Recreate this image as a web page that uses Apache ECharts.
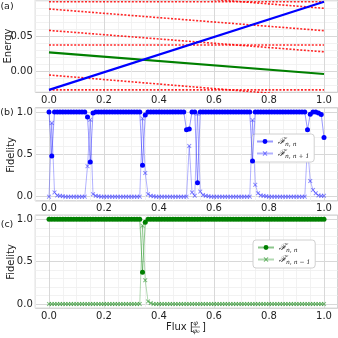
<!DOCTYPE html>
<html>
<head>
<meta charset="utf-8">
<script src="https://cdn.jsdelivr.net/npm/echarts@6.0.0/dist/echarts.min.js"></script>
<style>
  html, body { margin: 0; padding: 0; background: #fff; }
  #chart { width: 338px; height: 338px; }
</style>
</head>
<body>
<div id="chart"></div>
<script>
// panel (a): levels, given by their value at flux 0 and flux 1
var fluxEnds = [0, 1];
var energyBlue = [-0.026, 0.1];
var energyGreen = [0.0277, -0.0033];
var energyRed = [
  [0.1, 0.1],
  [0.0896, 0.0586],
  [0.059, 0.0284],
  [0.0381, 0.0381],
  [-0.0047, -0.037],
  [-0.026, -0.026],
  [0.1216, 0.0906]
];

// panels (b), (c): fidelity sampled on the flux grid
var flux = [
  0.00, 0.01, 0.02, 0.03, 0.04, 0.05, 0.06, 0.07, 0.08, 0.09,
  0.10, 0.11, 0.12, 0.13, 0.14, 0.15, 0.16, 0.17, 0.18, 0.19,
  0.20, 0.21, 0.22, 0.23, 0.24, 0.25, 0.26, 0.27, 0.28, 0.29,
  0.30, 0.31, 0.32, 0.33, 0.34, 0.35, 0.36, 0.37, 0.38, 0.39,
  0.40, 0.41, 0.42, 0.43, 0.44, 0.45, 0.46, 0.47, 0.48, 0.49,
  0.50, 0.51, 0.52, 0.53, 0.54, 0.55, 0.56, 0.57, 0.58, 0.59,
  0.60, 0.61, 0.62, 0.63, 0.64, 0.65, 0.66, 0.67, 0.68, 0.69,
  0.70, 0.71, 0.72, 0.73, 0.74, 0.75, 0.76, 0.77, 0.78, 0.79,
  0.80, 0.81, 0.82, 0.83, 0.84, 0.85, 0.86, 0.87, 0.88, 0.89,
  0.90, 0.91, 0.92, 0.93, 0.94, 0.95, 0.96, 0.97, 0.98, 0.99,
  1.00
];
var fidB_nn = [
  1, 0.48, 1, 1, 1, 1, 1, 1, 1, 1,
  1, 1, 1, 1, 0.94, 0.41, 0.99, 1, 1, 1,
  1, 1, 1, 1, 1, 1, 1, 1, 1, 1,
  1, 1, 1, 1, 0.37, 0.965, 1, 1, 1, 1,
  1, 1, 1, 1, 1, 1, 1, 1, 1, 1,
  0.79, 0.80, 1, 1, 0.165, 1, 1, 1, 1, 1,
  1, 1, 1, 1, 1, 1, 1, 1, 1, 1,
  1, 1, 1, 1, 0.42, 1, 1, 1, 1, 1,
  1, 1, 1, 1, 1, 1, 1, 1, 1, 1,
  1, 1, 1, 1, 0.79, 0.975, 1, 1, 0.99, 0.97,
  0.70
];
var fidB_n1 = [
  0, 0.87, 0.05, 0.015, 0.01, 0.005, 0, 0, 0, 0,
  0, 0, 0, 0, 0.36, 0.91, 0.03, 0.01, 0.005, 0,
  0, 0, 0, 0, 0, 0, 0, 0, 0, 0,
  0, 0, 0, 0, 0.925, 0.28, 0.03, 0.01, 0.005, 0,
  0, 0, 0, 0, 0, 0, 0, 0, 0, 0,
  0, 0.6, 0.05, 0.01, 0.98, 0.06, 0.02, 0.01, 0.005, 0,
  0, 0, 0, 0, 0, 0, 0, 0, 0, 0,
  0, 0, 0, 0, 0.905, 0.14, 0.04, 0.015, 0.01, 0.005,
  0, 0, 0, 0, 0, 0, 0, 0, 0, 0,
  0, 0, 0, 0, 0.6, 0.185, 0.08, 0.04, 0.015, 0.01,
  0.01
];
var fidC_nn = [
  1, 1, 1, 1, 1, 1, 1, 1, 1, 1,
  1, 1, 1, 1, 1, 1, 1, 1, 1, 1,
  1, 1, 1, 1, 1, 1, 1, 1, 1, 1,
  1, 1, 1, 1, 0.374, 0.965, 1, 1, 1, 1,
  1, 1, 1, 1, 1, 1, 1, 1, 1, 1,
  1, 1, 1, 1, 1, 1, 1, 1, 1, 1,
  1, 1, 1, 1, 1, 1, 1, 1, 1, 1,
  1, 1, 1, 1, 1, 1, 1, 1, 1, 1,
  1, 1, 1, 1, 1, 1, 1, 1, 1, 1,
  1, 1, 1, 1, 1, 1, 1, 1, 1, 1,
  1
];
var fidC_n1 = [
  0, 0, 0, 0, 0, 0, 0, 0, 0, 0,
  0, 0, 0, 0, 0, 0, 0, 0, 0, 0,
  0, 0, 0, 0, 0, 0, 0, 0, 0, 0,
  0, 0, 0, 0, 0.925, 0.28, 0.03, 0.01, 0, 0,
  0, 0, 0, 0, 0, 0, 0, 0, 0, 0,
  0, 0, 0, 0, 0, 0, 0, 0, 0, 0,
  0, 0, 0, 0, 0, 0, 0, 0, 0, 0,
  0, 0, 0, 0, 0, 0, 0, 0, 0, 0,
  0, 0, 0, 0, 0, 0, 0, 0, 0, 0,
  0, 0, 0, 0, 0, 0, 0, 0, 0, 0,
  0
];

// ticks
var xTicks = [0, 0.2, 0.4, 0.6, 0.8, 1.0];
var xMinor = [-0.05, 0.05, 0.1, 0.15, 0.25, 0.3, 0.35, 0.45, 0.5, 0.55, 0.65, 0.7, 0.75, 0.85, 0.9, 0.95, 1.05];
var energyTicks = [0, 0.05];
var energyMinor = [-0.02, -0.01, 0.01, 0.02, 0.03, 0.04, 0.06, 0.07, 0.08, 0.09, 0.1];
var fidTicks = [0, 0.5, 1.0];
var fidMinor = [0.1, 0.2, 0.3, 0.4, 0.6, 0.7, 0.8, 0.9];

var legendSubs = { bnn: 'n, n', bn1: 'n, n + 1', cnn: 'n, n', cn1: 'n, n \u2212 1' };

var FONT = 'DejaVu Sans';
var XMARK = 'path://M0,1.5L1.5,0L5,3.5L8.5,0L10,1.5L6.5,5L10,8.5L8.5,10L5,6.5L1.5,10L0,8.5L3.5,5Z';

function pairs(xs, ys) {
  return xs.map(function (x, i) { return [x, ys[i]]; });
}

var gridDefs = [
  { top: 0, height: 92.3, ymin: -0.0294, ymax: 0.1024, ticks: energyTicks, minor: energyMinor, digits: 2 },
  { top: 107.8, height: 93.1, ymin: -0.05, ymax: 1.05, ticks: fidTicks, minor: fidMinor, digits: 1 },
  { top: 215.1, height: 93.1, ymin: -0.05, ymax: 1.05, ticks: fidTicks, minor: fidMinor, digits: 1 }
];

var grids = [], xAxes = [], yAxes = [];
gridDefs.forEach(function (g, gi) {
  grids.push({
    left: 35.25, width: 302.5, top: g.top, height: g.height,
    containLabel: false, outerBoundsMode: 'none',
    show: true, borderColor: '#c4c4c4', borderWidth: 1, backgroundColor: 'transparent'
  });
  // minor grid lines (axis 2*gi), major axis (2*gi+1)
  xAxes.push({
    type: 'value', gridIndex: gi, position: 'bottom', min: -0.05, max: 1.05,
    axisLine: { show: false }, axisTick: { show: false, customValues: xMinor },
    axisLabel: { show: false, customValues: xMinor },
    splitLine: { show: true, lineStyle: { color: '#efefef', width: 0.8 } }
  });
  xAxes.push({
    type: 'value', gridIndex: gi, position: 'bottom', min: -0.05, max: 1.05,
    axisLine: { show: false }, axisTick: { show: false, customValues: xTicks },
    axisLabel: {
      customValues: xTicks, fontSize: 10, fontFamily: FONT, color: '#222', margin: 3,
      formatter: function (v) { return v.toFixed(1); }
    },
    splitLine: { show: true, lineStyle: { color: '#d8d8d8', width: 1 } }
  });
  yAxes.push({
    type: 'value', gridIndex: gi, position: 'left', min: g.ymin, max: g.ymax,
    axisLine: { show: false }, axisTick: { show: false, customValues: g.minor },
    axisLabel: { show: false, customValues: g.minor },
    splitLine: { show: true, lineStyle: { color: '#efefef', width: 0.8 } }
  });
  yAxes.push({
    type: 'value', gridIndex: gi, position: 'left', min: g.ymin, max: g.ymax,
    axisLine: { show: false }, axisTick: { show: false, customValues: g.ticks },
    axisLabel: {
      customValues: g.ticks, fontSize: 10, fontFamily: FONT, color: '#222', margin: 2.5,
      formatter: function (v) { return v.toFixed(g.digits); }
    },
    splitLine: { show: true, lineStyle: { color: '#d8d8d8', width: 1 } }
  });
});

var series = [];
// (a) energy levels
energyRed.forEach(function (lvl) {
  series.push({
    type: 'line', xAxisIndex: 1, yAxisIndex: 1, data: pairs(fluxEnds, lvl),
    showSymbol: false, clip: true, z: 2,
    lineStyle: { color: 'rgba(255,0,0,0.85)', width: 1.6, type: [2, 1.6] }
  });
});
series.push({
  type: 'line', xAxisIndex: 1, yAxisIndex: 1, data: pairs(fluxEnds, energyGreen),
  showSymbol: false, z: 3, lineStyle: { color: '#008000', width: 2.2 }
});
series.push({
  type: 'line', xAxisIndex: 1, yAxisIndex: 1, data: pairs(fluxEnds, energyBlue),
  showSymbol: false, z: 4, lineStyle: { color: '#0000ff', width: 2.2 }
});
// (b)
series.push({
  name: 'bnn', type: 'line', xAxisIndex: 3, yAxisIndex: 3, data: pairs(flux, fidB_nn),
  symbol: 'circle', symbolSize: 5, z: 4,
  itemStyle: { color: '#0000ff' }, lineStyle: { color: 'rgba(0,0,255,0.4)', width: 1 }
});
series.push({
  name: 'bn1', type: 'line', xAxisIndex: 3, yAxisIndex: 3, data: pairs(flux, fidB_n1),
  symbol: XMARK, symbolSize: 4.5, z: 3,
  itemStyle: { color: 'rgba(40,40,255,0.55)' }, lineStyle: { color: 'rgba(0,0,255,0.3)', width: 1 }
});
// (c)
series.push({
  name: 'cnn', type: 'line', xAxisIndex: 5, yAxisIndex: 5, data: pairs(flux, fidC_nn),
  symbol: 'circle', symbolSize: 5, z: 4,
  itemStyle: { color: '#008000' }, lineStyle: { color: 'rgba(0,128,0,0.45)', width: 1 }
});
series.push({
  name: 'cn1', type: 'line', xAxisIndex: 5, yAxisIndex: 5, data: pairs(flux, fidC_n1),
  symbol: XMARK, symbolSize: 4.5, z: 3,
  itemStyle: { color: 'rgba(0,128,0,0.5)' }, lineStyle: { color: 'rgba(0,128,0,0.3)', width: 1 }
});

function legendFor(names, left, top) {
  return {
    data: names, left: left, top: top, orient: 'vertical',
    itemWidth: 16, itemHeight: 6, itemGap: 2,
    backgroundColor: '#fff', borderColor: '#d0d0d0', borderWidth: 1, borderRadius: 3,
    padding: [3, 5, 3, 4],
    selectedMode: false,
    formatter: function (n) { return '{f|\u2131}{s|' + legendSubs[n] + '}'; },
    textStyle: {
      rich: {
        f: { fontFamily: 'DejaVu Serif', fontStyle: 'italic', fontSize: 9, color: '#222', lineHeight: 11 },
        s: { fontFamily: 'DejaVu Serif', fontStyle: 'italic', fontSize: 6, color: '#222', lineHeight: 11, verticalAlign: 'bottom', padding: [3, 0, 0, 0] }
      }
    }
  };
}

function txt(t, x, y, size, rot) {
  return {
    type: 'text', x: x, y: y, rotation: rot || 0, silent: true,
    style: { text: t, fontSize: size, fontFamily: FONT, fill: '#222', align: 'center', verticalAlign: 'middle' }
  };
}

var graphics = [
  txt('(a)', 7, 7, 9.5),
  txt('(b)', 7, 113, 9.5),
  txt('(c)', 7, 225, 9.5),
  txt('Energy', 8.3, 46, 10, Math.PI / 2),
  txt('Fidelity', 11.7, 155, 10, Math.PI / 2),
  txt('Fidelity', 11.7, 262, 10, Math.PI / 2),
  // x-axis name of (c): Flux [phi / phi0]
  { type: 'text', x: 166, y: 327, silent: true,
    style: { text: 'Flux [', fontSize: 10, fontFamily: FONT, fill: '#222', align: 'left', verticalAlign: 'middle' } },
  { type: 'text', x: 195.5, y: 323, silent: true,
    style: { text: '\u03c6', fontSize: 6.5, fontFamily: 'DejaVu Serif', fontStyle: 'italic', fill: '#222', align: 'center', verticalAlign: 'middle' } },
  { type: 'line', silent: true, shape: { x1: 192, y1: 327, x2: 200, y2: 327 }, style: { stroke: '#222', lineWidth: 0.6 } },
  { type: 'text', x: 196, y: 331, silent: true,
    style: { text: '\u03c6\u2080', fontSize: 6.5, fontFamily: 'DejaVu Serif', fontStyle: 'italic', fill: '#222', align: 'center', verticalAlign: 'middle' } },
  { type: 'text', x: 202, y: 327, silent: true,
    style: { text: ']', fontSize: 10, fontFamily: FONT, fill: '#222', align: 'left', verticalAlign: 'middle' } }
];

var chart = echarts.init(document.getElementById('chart'), null, { renderer: 'canvas' });
chart.setOption({
  animation: false,
  backgroundColor: '#fff',
  grid: grids,
  xAxis: xAxes,
  yAxis: yAxes,
  legend: [legendFor(['bnn', 'bn1'], 252, 134), legendFor(['cnn', 'cn1'], 253, 240)],
  graphic: graphics,
  series: series
});
</script>
</body>
</html>
